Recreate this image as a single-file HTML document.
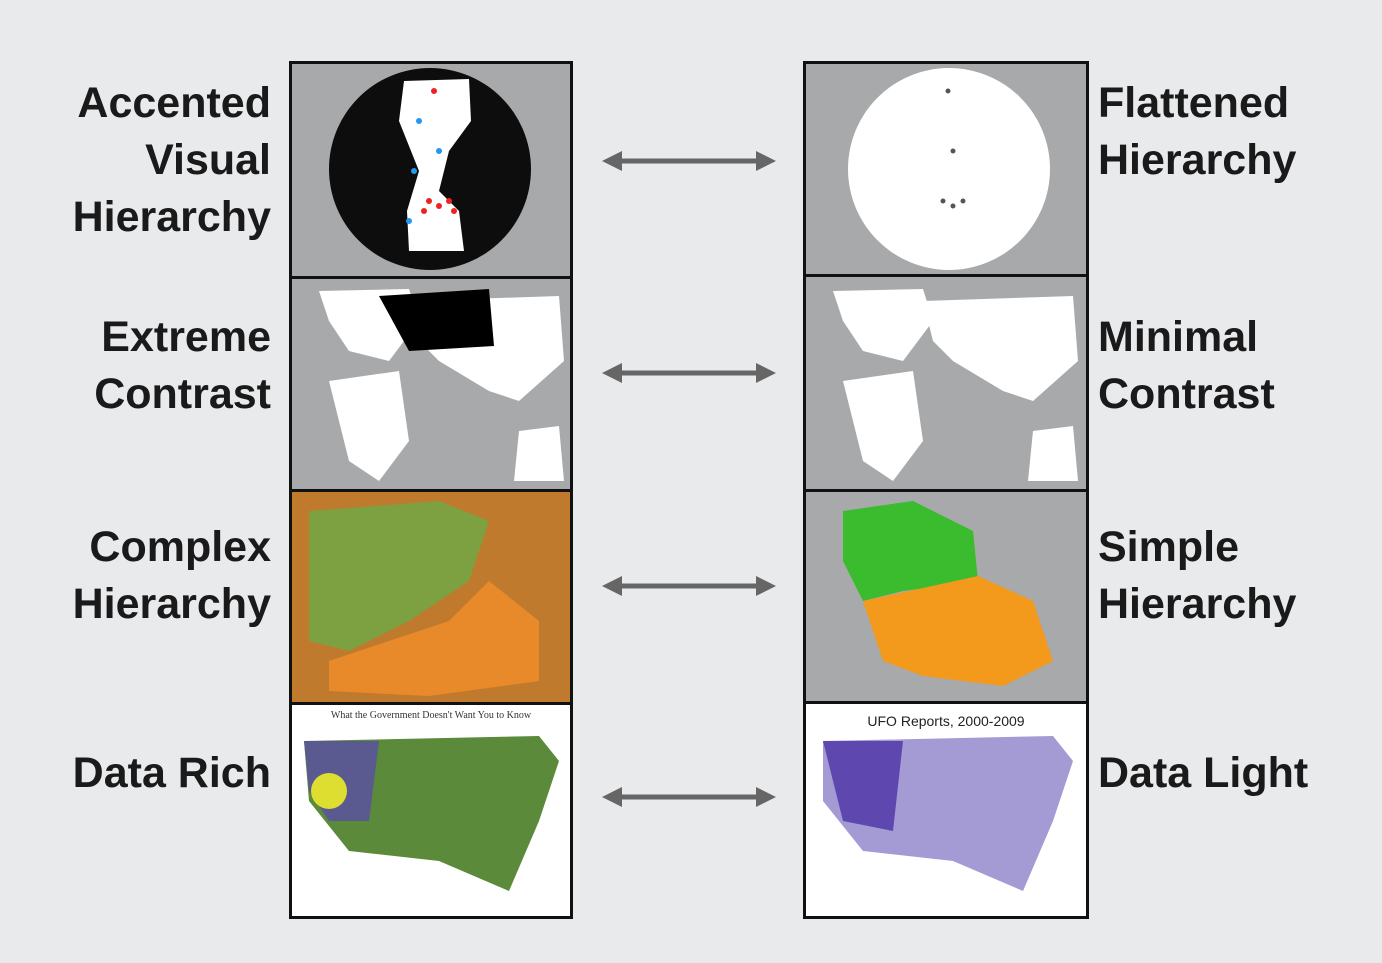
<!DOCTYPE html>
<html><head><meta charset="utf-8"><style>
html,body{margin:0;padding:0;}
body{width:1382px;height:963px;background:#e9eaec;position:relative;overflow:hidden;font-family:"Liberation Sans",sans-serif;}
.lbl{position:absolute;font-weight:bold;font-size:43px;line-height:57px;color:#1a1a1a;letter-spacing:0px;white-space:nowrap;}
.l{right:1111px;text-align:right;}
.r{left:1098px;text-align:left;}
.panel{position:absolute;overflow:hidden;}
</style></head><body>
<div class="lbl l" style="top:75px">Accented<br>Visual<br>Hierarchy</div>
<div class="lbl l" style="top:309px">Extreme<br>Contrast</div>
<div class="lbl l" style="top:519px">Complex<br>Hierarchy</div>
<div class="lbl l" style="top:745px">Data Rich</div>
<div class="lbl r" style="top:75px">Flattened<br>Hierarchy</div>
<div class="lbl r" style="top:309px">Minimal<br>Contrast</div>
<div class="lbl r" style="top:519px">Simple<br>Hierarchy</div>
<div class="lbl r" style="top:745px">Data Light</div>

<svg width="1382" height="963" style="position:absolute;left:0;top:0">
<defs><marker id="h" markerWidth="4" markerHeight="4" refX="2" refY="2" orient="auto-start-reverse"><path d="M0,0L4,2L0,4Z" fill="#666"/></marker></defs>
<g stroke="#666" stroke-width="5" marker-start="url(#h)" marker-end="url(#h)">
<line x1="612" y1="161" x2="766" y2="161"/><line x1="612" y1="373" x2="766" y2="373"/>
<line x1="612" y1="586" x2="766" y2="586"/><line x1="612" y1="797" x2="766" y2="797"/></g>
</svg>

<svg class="panel" style="left:289px;top:61px;width:284px;height:858px" width="284" height="858">
<rect width="284" height="858" fill="#111"/>
<rect x="3" y="3" width="278" height="212" fill="#a8a9ab"/>
<circle cx="141" cy="108" r="101" fill="#0d0d0d"/>
<path d="M115,20 L180,18 L182,60 L160,90 L150,130 L170,150 L175,190 L120,190 L118,150 L130,110 L110,60 Z" fill="#fff"/>
<g fill="#e22"><circle cx="140" cy="140" r="3"/><circle cx="150" cy="145" r="3"/><circle cx="160" cy="140" r="3"/><circle cx="135" cy="150" r="3"/><circle cx="165" cy="150" r="3"/><circle cx="145" cy="30" r="3"/></g>
<g fill="#29e"><circle cx="130" cy="60" r="3"/><circle cx="150" cy="90" r="3"/><circle cx="125" cy="110" r="3"/><circle cx="120" cy="160" r="3"/></g>
<rect x="3" y="218" width="278" height="210" fill="#a8a9ab"/>
<path d="M30,230 L120,228 L130,260 L100,300 L60,290 L40,260 Z M40,320 L110,310 L120,380 L90,420 L60,400 Z M120,240 L270,235 L275,300 L230,340 L200,330 L150,300 L130,280 Z M230,370 L270,365 L275,420 L225,420 Z" fill="#fff"/>
<path d="M90,235 L200,228 L205,285 L120,290 Z" fill="#000"/>
<rect x="3" y="431" width="278" height="210" fill="#c07a2e"/>
<path d="M20,450 L150,440 L200,460 L180,520 L120,560 L60,590 L20,580 Z" fill="#7da040"/>
<path d="M40,600 L160,560 L200,520 L250,560 L250,620 L140,635 L40,630 Z" fill="#e88a2a"/>
<rect x="3" y="644" width="278" height="211" fill="#fff"/>
<path d="M15,680 L250,675 L270,700 L250,760 L220,830 L150,800 L60,790 L20,740 Z" fill="#5a8a3a"/>
<path d="M15,680 L90,680 L80,760 L40,760 L20,730 Z" fill="#5a4ea8" opacity=".8"/>
<circle cx="40" cy="730" r="18" fill="#dede30"/>
<text x="142" y="657" font-size="10" text-anchor="middle" fill="#333" font-family="Liberation Serif, serif">What the Government Doesn't Want You to Know</text>
</svg>

<svg class="panel" style="left:803px;top:61px;width:286px;height:858px" width="286" height="858">
<rect width="286" height="858" fill="#111"/>
<rect x="3" y="3" width="280" height="210" fill="#a8a9ab"/>
<circle cx="146" cy="108" r="101" fill="#fff"/>
<g fill="#555"><circle cx="140" cy="140" r="2.5"/><circle cx="150" cy="145" r="2.5"/><circle cx="160" cy="140" r="2.5"/><circle cx="145" cy="30" r="2.5"/><circle cx="150" cy="90" r="2.5"/></g>
<rect x="3" y="216" width="280" height="212" fill="#a8a9ab"/>
<path d="M30,230 L120,228 L130,260 L100,300 L60,290 L40,260 Z M40,320 L110,310 L120,380 L90,420 L60,400 Z M120,240 L270,235 L275,300 L230,340 L200,330 L150,300 L130,280 Z M230,370 L270,365 L275,420 L225,420 Z" fill="#fff"/>
<rect x="3" y="431" width="280" height="209" fill="#a8a9ab"/>
<path d="M40,450 L110,440 L170,470 L175,520 L100,530 L60,540 L40,500 Z" fill="#3bbb2e"/>
<path d="M60,540 L175,515 L230,540 L250,600 L200,625 L120,615 L80,600 Z" fill="#f39a1c"/>
<rect x="3" y="643" width="280" height="212" fill="#fff"/>
<path d="M20,680 L250,675 L270,700 L250,760 L220,830 L150,800 L60,790 L20,740 Z" fill="#a59bd4"/>
<path d="M20,680 L100,680 L90,770 L40,760 Z" fill="#5e48b0"/>
<text x="143" y="665" font-size="14" text-anchor="middle" fill="#222">UFO Reports, 2000-2009</text>
</svg>
</body></html>
